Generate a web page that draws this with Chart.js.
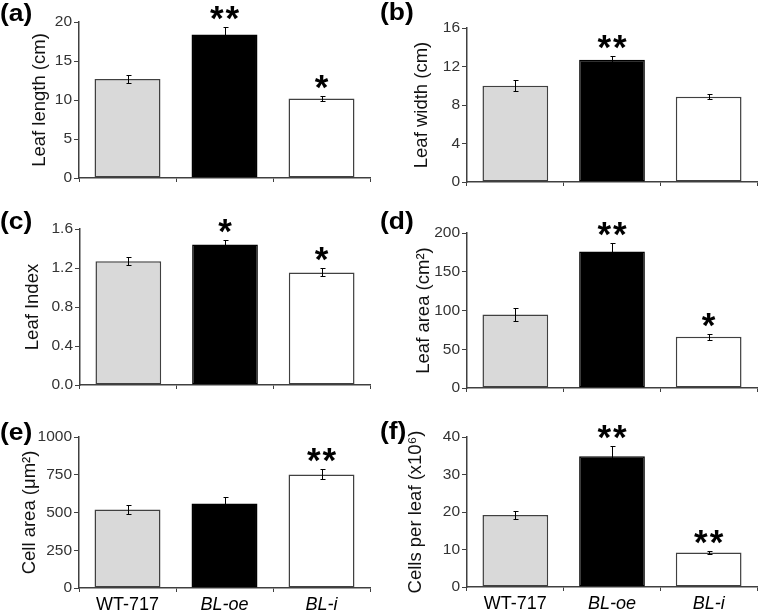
<!DOCTYPE html>
<html><head><meta charset="utf-8">
<script src="https://cdn.jsdelivr.net/npm/chart.js@4"></script>
<style>
html,body{margin:0;padding:0;background:#fff;}
#wrap{position:relative;width:760px;height:614px;overflow:hidden;background:#fff;}
.pl{position:absolute;font:bold 23px "Liberation Sans",Arial,sans-serif;line-height:23px;transform:scaleX(1.15);transform-origin:0 0;color:#000;white-space:nowrap;}
canvas{position:absolute;}
</style></head><body>
<div id="wrap"></div>
<script>
// ---- data ----
const categories = ['WT-717', 'BL-oe', 'BL-i'];
const panelLabels = ['(a)', '(b)', '(c)', '(d)', '(e)', '(f)'];
const yTitles = ['Leaf length (cm)', 'Leaf width (cm)', 'Leaf Index', 'Leaf area (cm²)', 'Cell area (μm²)', 'Cells per leaf (x10⁶)'];

const leafLength = [12.7, 18.4, 10.2];
const leafLengthErr = [0.5, 1.0, 0.35];
const leafLengthSig = ['', '**', '*'];

const leafWidth = [10.0, 12.7, 8.85];
const leafWidthErr = [0.55, 0.4, 0.25];
const leafWidthSig = ['', '**', ''];

const leafIndex = [1.27, 1.44, 1.155];
const leafIndexErr = [0.04, 0.05, 0.04];
const leafIndexSig = ['', '*', '*'];

const leafArea = [95, 176, 66];
const leafAreaErr = [8, 11.5, 4];
const leafAreaSig = ['', '**', '*'];

const cellArea = [520, 560, 752];
const cellAreaErr = [27, 44, 33];
const cellAreaSig = ['', '', '**'];

const cellsPerLeaf = [19.2, 34.9, 9.2];
const cellsPerLeafErr = [1.0, 2.7, 0.5];
const cellsPerLeafSig = ['', '**', '**'];

const yMax = [20, 16, 1.6, 200, 1000, 40];
const yStep = [5, 4, 0.4, 50, 250, 10];
const yDecimals = [0, 0, 1, 0, 0, 0];

const barFills = ['#d9d9d9', '#000000', '#ffffff'];
const barBorders = ['#404040', '#000000', '#404040'];

// ---- layout (panel placement only) ----
const panels = [
  {v: leafLength, e: leafLengthErr, s: leafLengthSig, x: 0, y: 0, w: 380, h: 200, L: 79, R: 370, T: 22, B: 178, tx: 40, lab: [0, 2], xl: false},
  {v: leafWidth, e: leafWidthErr, s: leafWidthSig, x: 380, y: 0, w: 380, h: 200, L: 87, R: 377, T: 28, B: 182, tx: 42, lab: [380, 1], xl: false},
  {v: leafIndex, e: leafIndexErr, s: leafIndexSig, x: 0, y: 200, w: 380, h: 200, L: 80, R: 370, T: 29, B: 185, tx: 33, lab: [0, 210], xl: false},
  {v: leafArea, e: leafAreaErr, s: leafAreaSig, x: 380, y: 200, w: 380, h: 200, L: 87, R: 377, T: 33, B: 188, tx: 44, lab: [380, 210], xl: false},
  {v: cellArea, e: cellAreaErr, s: cellAreaSig, x: 0, y: 400, w: 380, h: 214, L: 79, R: 370, T: 37, B: 188, tx: 30, lab: [0, 421], xl: true},
  {v: cellsPerLeaf, e: cellsPerLeafErr, s: cellsPerLeafSig, x: 380, y: 400, w: 380, h: 214, L: 87, R: 377, T: 37, B: 187, tx: 36, lab: [380, 420], xl: true}
];

const FONT = '"Liberation Sans", Arial, sans-serif';
Chart.defaults.font.family = FONT;

const errPlugin = {
  id: 'errbars',
  afterDatasetsDraw(chart) {
    const ctx = chart.ctx;
    const y = chart.scales.y;
    const ds = chart.data.datasets[0];
    const meta = chart.getDatasetMeta(0);
    ctx.save();
    ctx.strokeStyle = '#000';
    ctx.lineWidth = 1;
    meta.data.forEach((bar, i) => {
      const v = ds.data[i], e = ds.err[i];
      const yt = Math.round(y.getPixelForValue(v + e)) + 0.5;
      const yb = Math.round(y.getPixelForValue(v - e)) + 0.5;
      const x = Math.round(bar.x) + 0.5;
      ctx.beginPath();
      ctx.moveTo(x, yt); ctx.lineTo(x, yb);
      ctx.moveTo(x - 2, yt); ctx.lineTo(x + 3, yt);
      ctx.moveTo(x - 2, yb); ctx.lineTo(x + 3, yb);
      ctx.stroke();
      const s = ds.sig[i];
      if (s) {
        ctx.fillStyle = '#000';
        ctx.font = 'bold 35px ' + FONT;
        ctx.textAlign = 'center';
        ctx.textBaseline = 'alphabetic';
        if ('letterSpacing' in ctx) ctx.letterSpacing = '2px';
        ctx.fillText(s, bar.x + 1, yt + 2);
        if ('letterSpacing' in ctx) ctx.letterSpacing = '0px';
      }
    });
    ctx.restore();
  }
};

const wrap = document.getElementById('wrap');
panels.forEach((p, k) => {
  const lab = document.createElement('div');
  lab.className = 'pl';
  lab.style.left = p.lab[0] + 'px';
  lab.style.top = p.lab[1] + 'px';
  lab.textContent = panelLabels[k];

  const cv = document.createElement('canvas');
  cv.width = p.w; cv.height = p.h;
  cv.style.left = p.x + 'px'; cv.style.top = p.y + 'px';
  cv.style.width = p.w + 'px'; cv.style.height = p.h + 'px';
  wrap.appendChild(cv);
  wrap.appendChild(lab);

  const titleFont = {size: 18.5, lineHeight: 1.2};
  new Chart(cv, {
    type: 'bar',
    data: {
      labels: categories,
      datasets: [{
        data: p.v, err: p.e, sig: p.s,
        backgroundColor: barFills,
        borderColor: barBorders,
        borderWidth: 1.5,
        borderSkipped: false,
        categoryPercentage: 1,
        barPercentage: 0.68
      }]
    },
    options: {
      responsive: false,
      animation: false,
      devicePixelRatio: 1,
      layout: {padding: {top: p.T, right: p.w - p.R, left: 0, bottom: 0}},
      plugins: {legend: {display: false}, tooltip: {enabled: false}},
      scales: {
        x: {
          type: 'category',
          offset: true,
          grid: {offset: true, drawOnChartArea: false, drawTicks: true, tickLength: 4, color: '#404040', lineWidth: 1},
          border: {display: true, color: '#404040', width: 1.5},
          ticks: {
            display: p.xl,
            color: '#000',
            padding: 2,
            font: (c) => ({size: 18, family: FONT, style: c.index > 0 ? 'italic' : 'normal'})
          },
          afterFit: (s) => { s.height = p.h - p.B; }
        },
        y: {
          min: 0, max: yMax[k],
          grid: {drawOnChartArea: false, drawTicks: true, tickLength: 5, color: '#404040', lineWidth: 1},
          border: {display: true, color: '#404040', width: 1.5},
          ticks: {
            stepSize: yStep[k],
            color: '#333',
            padding: 2,
            font: {size: 15.5},
            callback: (v) => Number(v).toFixed(yDecimals[k])
          },
          title: {
            display: true,
            text: yTitles[k],
            color: '#111',
            font: titleFont,
            padding: {top: p.tx - 18.5 * 1.2 / 2, bottom: 0}
          },
          afterFit: (s) => { s.width = p.L; }
        }
      }
    },
    plugins: [errPlugin]
  });
});
</script>
</body></html>
